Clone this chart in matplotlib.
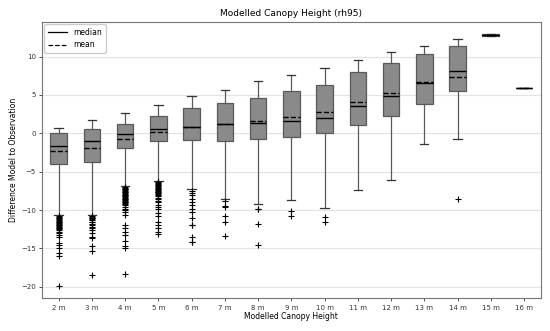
import matplotlib
matplotlib.use("Agg")
import matplotlib.pyplot as plt
from matplotlib.lines import Line2D

categories = ["2 m", "3 m", "4 m", "5 m", "6 m", "7 m", "8 m", "9 m", "10 m",
              "11 m", "12 m", "13 m", "14 m", "15 m", "16 m"]
whislo = [-10.65, -10.65, -6.9, -6.2, -7.3, -8.6, -9.26, -8.66, -9.7, -7.43, -6.05, -1.44, -0.74, 12.70, 5.9]
q1 = [-4.04, -3.74, -1.92, -1.04, -0.87, -0.96, -0.78, -0.44, 0.09, 1.08, 2.21, 3.78, 5.47, 12.74, 5.9]
med = [-1.66, -1.0, -0.13, 0.52, 0.86, 1.17, 1.3, 1.55, 2.04, 3.5, 4.9, 6.6, 8.12, 12.82, 5.9]
mean = [-2.35, -1.87, -0.74, 0.21, 0.82, 1.2, 1.54, 2.12, 2.76, 4.02, 5.2, 6.73, 7.38, 12.82, 5.9]
q3 = [0.0, 0.56, 1.21, 2.26, 3.26, 3.99, 4.6, 5.56, 6.34, 8.0, 9.2, 10.34, 11.38, 12.90, 5.9]
whishi = [0.69, 1.7, 2.65, 3.69, 4.86, 5.69, 6.78, 7.64, 8.56, 9.6, 10.6, 11.42, 12.25, 12.94, 5.9]
fliers = [
    [-10.8, -10.9, -11.0, -11.1, -11.2, -11.3, -11.4, -11.5, -11.6, -11.7, -11.8, -11.9, -12.0,
     -12.1, -12.2, -12.3, -12.4, -12.5, -12.6, -12.8, -13.0, -13.2, -13.5, -14.3, -14.6, -15.0,
     -15.6, -16.0, -19.9],
    [-10.8, -10.9, -11.0, -11.1, -11.2, -11.3, -11.5, -11.6, -11.8, -12.0, -12.2, -12.4, -12.6,
     -13.0, -13.5, -13.7, -14.7, -15.4, -18.4],
    [-7.0, -7.1, -7.2, -7.3, -7.4, -7.5, -7.6, -7.7, -7.8, -7.9, -8.0, -8.1, -8.2, -8.3, -8.4,
     -8.5, -8.6, -8.7, -8.8, -8.9, -9.0, -9.1, -9.2, -9.4, -9.6, -9.8, -10.0, -10.3, -10.7,
     -11.9, -12.3, -12.8, -13.3, -14.0, -14.7, -15.0, -18.3],
    [-6.3, -6.4, -6.5, -6.6, -6.7, -6.8, -6.9, -7.0, -7.1, -7.2, -7.3, -7.4, -7.5, -7.6, -7.7,
     -7.8, -7.9, -8.0, -8.2, -8.4, -8.6, -8.8, -9.0, -9.3, -9.6, -9.8, -10.4, -10.8, -11.5,
     -12.0, -12.3, -12.8, -13.1],
    [-7.5, -7.8, -8.1, -8.5, -9.0, -9.4, -9.9, -10.3, -11.0, -11.9, -12.0, -13.5, -14.1, -14.2],
    [-8.8, -9.5, -9.6, -10.8, -11.6, -13.4],
    [-9.8, -9.9, -11.8, -14.5],
    [-10.1, -10.8],
    [-10.95, -11.5],
    [],
    [],
    [],
    [-8.57],
    [],
    [],
]
tick_values = [-20, -15, -10, -5, 0, 5, 10]

stats = []
for i, lab in enumerate(categories):
    stats.append(dict(label=lab, whislo=whislo[i], q1=q1[i], med=med[i], mean=mean[i],
                      q3=q3[i], whishi=whishi[i], fliers=fliers[i]))

fig = plt.figure(figsize=(5.5, 3.31), dpi=100)
ax = fig.add_axes([0.0764, 0.0988, 0.9066, 0.8347])

edge = "#5a5a5a"
ax.bxp(stats, widths=0.5, patch_artist=True, showmeans=True, meanline=True,
       boxprops=dict(facecolor="#8a8a8a", edgecolor=edge, linewidth=0.9),
       whiskerprops=dict(color=edge, linewidth=0.9),
       capprops=dict(color="#333333", linewidth=0.9),
       medianprops=dict(color="black", linewidth=1.0, linestyle="-"),
       meanprops=dict(color="black", linewidth=1.0, linestyle="--"),
       flierprops=dict(marker="+", markeredgecolor="black", markersize=4.5, markeredgewidth=0.8,
                       linestyle="none"))

ax.set_xlim(0.5, 15.5)
ax.set_ylim(-21.5, 14.5)
ax.set_yticks(tick_values)
ax.yaxis.grid(True, color="#e3e3e3", linewidth=0.8)
ax.set_axisbelow(True)
for s in ax.spines.values():
    s.set_color("#777777")
    s.set_linewidth(0.8)
ax.tick_params(labelsize=5, length=2.5, width=0.6, colors="#333333", pad=2)

ax.set_title("Modelled Canopy Height (rh95)", fontsize=6.5, pad=4)
ax.set_xlabel("Modelled Canopy Height", fontsize=5.5, labelpad=1)
ax.set_ylabel("Difference Model to Observation", fontsize=5.5, labelpad=2)

handles = [Line2D([], [], color="black", linewidth=0.9, linestyle="-"),
           Line2D([], [], color="black", linewidth=0.9, linestyle="--")]
ax.legend(handles, ["median", "mean"], loc="upper left", fontsize=5.5, handlelength=2.5,
          framealpha=1, edgecolor="#cccccc", borderpad=0.5, labelspacing=0.4,
          bbox_to_anchor=(0.0, 1.0), borderaxespad=0.3)

fig.savefig("out.png", dpi=100)
